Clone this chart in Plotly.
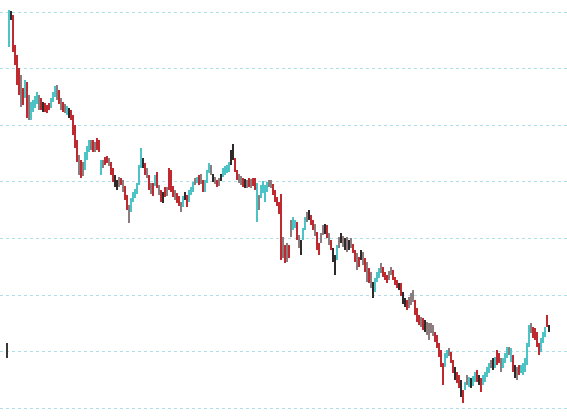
import plotly.graph_objects as go

# Daily bars (index = trading day), price levels
high = [
    410, 409, 405, 375, 365, 352, 345, 332, 340, 338,
    325, 318, 320, 324, 328, 325, 322, 318, 317, 315,
    317, 322, 328, 334, 335, 330, 322, 318, 316, 314,
    312, 310, 305, 295, 280, 265, 260, 258, 268, 274,
    280, 280, 280, 278, 282, 280, 260, 260, 263, 264,
    262, 258, 252, 245, 240, 243, 242, 240, 234, 225,
    215, 222, 228, 231, 237, 255, 272, 262, 257, 252,
    245, 237, 237, 245, 248, 235, 230, 228, 233, 233,
    252, 250, 234, 230, 227, 224, 218, 224, 228, 225,
    230, 233, 238, 242, 243, 245, 246, 240, 240, 250,
    257, 255, 246, 243, 240, 242, 246, 252, 254, 255,
    258, 270, 276, 262, 250, 246, 244, 242, 241, 240,
    242, 241, 242, 242, 237, 225, 235, 239, 235, 238,
    240, 240, 236, 230, 223, 218, 226, 183, 175, 177,
    175, 200, 203, 200, 198, 185, 180, 192, 203, 208,
    210, 205, 200, 196, 188, 177, 187, 195, 196, 195,
    187, 180, 172, 165, 175, 183, 187, 184, 182, 183,
    180, 182, 176, 170, 167, 163, 170, 168, 162, 158,
    152, 148, 138, 142, 148, 152, 157, 153, 148, 145,
    149, 153, 150, 143, 140, 137, 137, 128, 122, 120,
    123, 127, 130, 120, 112, 105, 103, 102, 100, 98,
    97, 97, 95, 88, 85, 77, 70, 57, 67, 70,
    72, 68, 60, 53, 48, 45, 40, 30, 38, 45,
    43, 42, 44, 48, 50, 45, 42, 45, 48, 53,
    57, 60, 62, 63, 70, 67, 62, 62, 67, 73,
    73, 72, 65, 55, 53, 55, 55, 57, 62, 77,
    95, 97, 93, 92, 88, 77, 82, 88, 93, 105,
    95,
]
low = [
    373, 400, 368, 355, 335, 325, 313, 315, 322, 302,
    300, 300, 308, 312, 316, 310, 310, 308, 308, 307,
    310, 312, 318, 323, 320, 316, 310, 308, 307, 305,
    302, 300, 285, 272, 258, 245, 242, 244, 250, 260,
    268, 270, 268, 268, 270, 268, 245, 252, 255, 257,
    254, 245, 238, 233, 230, 233, 235, 228, 220, 210,
    197, 208, 218, 222, 226, 235, 252, 252, 245, 242,
    230, 226, 224, 234, 232, 225, 218, 217, 223, 224,
    230, 228, 223, 220, 217, 214, 208, 213, 220, 213,
    218, 225, 228, 235, 237, 235, 236, 228, 228, 237,
    247, 245, 238, 236, 233, 234, 239, 243, 245, 247,
    248, 255, 260, 248, 240, 237, 235, 233, 232, 232,
    233, 232, 234, 230, 198, 210, 222, 227, 218, 228,
    233, 232, 225, 218, 214, 206, 160, 162, 157, 158,
    162, 183, 190, 192, 180, 172, 165, 180, 190, 198,
    200, 195, 190, 184, 170, 165, 177, 185, 186, 182,
    175, 170, 158, 145, 160, 172, 177, 173, 170, 168,
    170, 172, 167, 158, 150, 153, 160, 155, 148, 138,
    137, 132, 122, 128, 138, 142, 147, 143, 140, 137,
    140, 145, 140, 135, 132, 130, 124, 116, 113, 110,
    112, 115, 118, 105, 98, 95, 93, 90, 88, 85,
    80, 87, 84, 78, 72, 63, 53, 35, 53, 62,
    64, 57, 47, 40, 37, 32, 23, 17, 30, 35,
    33, 32, 34, 38, 38, 35, 28, 35, 38, 43,
    47, 52, 50, 52, 55, 57, 48, 52, 57, 62,
    65, 58, 48, 42, 40, 45, 47, 45, 48, 55,
    73, 87, 82, 80, 73, 65, 68, 77, 83, 93,
    88,
]
# bar tone: u = up, d = down, g = grey, k = black
tone = "".join([
    "ukddddgdud", "guuuugdkdd", "duuugdgdgu", "kddddgdguu", "ugdgddugdd",
    "gddkkgdgdd", "guuuuuukdg", "dgdudgdkdg", "dddgddgukd", "uuugudgduu",
    "ugkgdgkuuu", "ukkddggdkg", "dgdduguuuu", "ggdddddgdg", "dguudgkuug",
    "kddgddggkd", "gdkkugkgkg", "kgddgdkgdg", "dgkuuugddd", "ggdddkdkkd",
    "gggdddgdkg", "gggddddduu", "gddkddkdug", "ukuudkduuu", "ugkuddguuu",
    "gudkgduuuu", "ugdddduuud", "k",
])
# lone marker at far left
lone_x = [-1]
lone_high = [77]
lone_low = [62]

n = len(high)
assert len(low) == n and len(tone) == n, (len(high), len(low), len(tone))
days = list(range(n))

palette = {"u": "#4cc4c6", "d": "#bf2a30", "g": "#8c7c7d", "k": "#2e2a2a"}

fig = go.Figure()
for key, col in palette.items():
    idx = [i for i in range(n) if tone[i] == key]
    fig.add_trace(go.Bar(
        x=[days[i] for i in idx],
        y=[high[i] - low[i] for i in idx],
        base=[low[i] for i in idx],
        width=1.0,
        marker=dict(color=col, line=dict(width=0)),
        hoverinfo="skip", showlegend=False,
    ))
fig.add_trace(go.Bar(
    x=lone_x, y=[h - l for h, l in zip(lone_high, lone_low)], base=lone_low,
    width=0.8, marker=dict(color="#3a3636", line=dict(width=0)),
    hoverinfo="skip", showlegend=False,
))

fig.update_layout(
    width=567, height=417,
    margin=dict(l=0, r=0, t=0, b=0),
    paper_bgcolor="white", plot_bgcolor="white",
    barmode="overlay", bargap=0,
    xaxis=dict(range=[-4.5, 279], showgrid=False, zeroline=False,
               showticklabels=False, showline=False, ticks=""),
    yaxis=dict(range=[3, 420], tick0=11.8, dtick=56.6, showgrid=True,
               gridcolor="#addfe8", griddash="dot", gridwidth=1,
               zeroline=False, showticklabels=False, showline=False, ticks=""),
)
fig.write_html(
    "out.html",
    config={"displayModeBar": False},
    post_script="document.body.style.margin='0';document.body.style.overflow='hidden';",
)
